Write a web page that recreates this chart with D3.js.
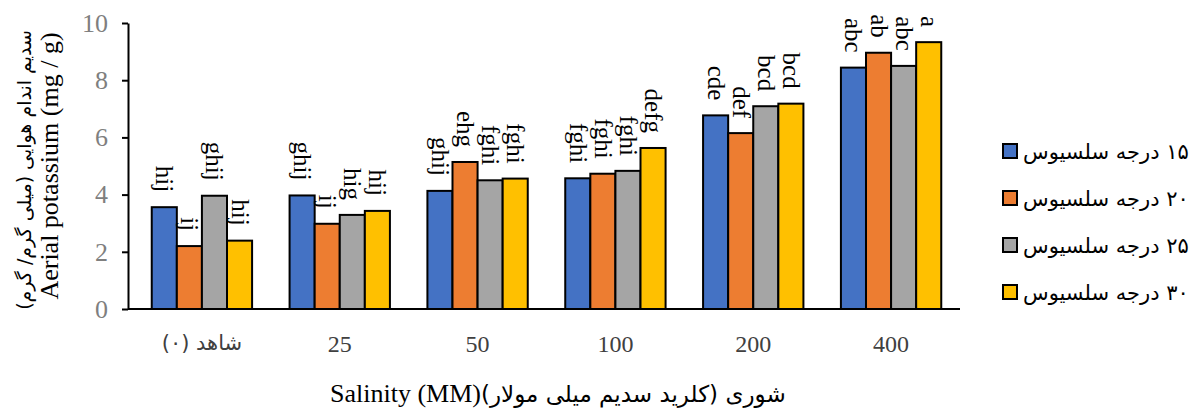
<!DOCTYPE html>
<html>
<head>
<meta charset="utf-8">
<script src="https://cdn.jsdelivr.net/npm/d3@7"></script>
<style>
  body { margin: 0; background: #fff; }
  svg { display: block; }
</style>
</head>
<body>
<div id="wrapper"></div>
<script>
// data
const categories = ["شاهد (۰)", "25", "50", "100", "200", "400"]
const seriesNames = ["۱۵ درجه سلسیوس", "۲۰ درجه سلسیوس", "۲۵ درجه سلسیوس", "۳۰ درجه سلسیوس"]
const colors = ["#4472C4", "#ED7D31", "#A5A5A5", "#FFC000"]

const temp15 = [3.56, 3.97, 4.13, 4.57, 6.77, 8.44]
const temp20 = [2.20, 2.98, 5.14, 4.73, 6.15, 8.96]
const temp25 = [3.96, 3.29, 4.50, 4.83, 7.09, 8.50]
const temp30 = [2.39, 3.43, 4.56, 5.63, 7.18, 9.33]

const letters15 = ["hij", "ghij", "ghij", "fghi", "cde", "abc"]
const letters20 = ["ij", "ij", "ehg", "fghi", "def", "ab"]
const letters25 = ["ghij", "hig", "fghi", "fghi", "bcd", "abc"]
const letters30 = ["hij", "hij", "fghi", "defg", "bcd", "a"]

const yTicks = [0, 2, 4, 6, 8, 10]

const series = [temp15, temp20, temp25, temp30]
const letters = [letters15, letters20, letters25, letters30]

const serif = "'Liberation Serif', 'Times New Roman', serif"
const persian = "'DejaVu Sans', sans-serif"

// chart dimensions
let dimensions = {
    width: 1190,
    height: 408,
    margins: { top: 23, right: 230, bottom: 99, left: 128 },
}
dimensions.boundedWidth = dimensions.width - dimensions.margins.left - dimensions.margins.right
dimensions.boundedHeight = dimensions.height - dimensions.margins.top - dimensions.margins.bottom

const wrapper = d3.select("#wrapper")
    .append("svg")
    .attr("width", dimensions.width)
    .attr("height", dimensions.height)

const bounds = wrapper.append("g")
    .attr("transform", `translate(${dimensions.margins.left},${dimensions.margins.top})`)

// scales
const yScale = d3.scaleLinear()
    .domain([0, 10])
    .range([dimensions.boundedHeight, 0])

const xScale = d3.scaleBand()
    .domain(categories)
    .range([5, dimensions.boundedWidth])
    .paddingInner(0.272)
    .paddingOuter(0.136)

const innerScale = d3.scaleBand()
    .domain(d3.range(series.length))
    .range([0, xScale.bandwidth()])

// rows for drawing
const rows = []
series.forEach((vals, si) => {
    vals.forEach((v, ci) => {
        rows.push({ si, ci, value: v, label: letters[si][ci] })
    })
})

// bars
bounds.append("g")
    .selectAll("rect")
    .data(rows)
    .join("rect")
    .attr("x", d => xScale(categories[d.ci]) + innerScale(d.si))
    .attr("y", d => yScale(d.value))
    .attr("width", innerScale.bandwidth())
    .attr("height", d => yScale(0) - yScale(d.value))
    .attr("fill", d => colors[d.si])
    .attr("stroke", "#000")
    .attr("stroke-width", 2)

// letter labels, rotated
bounds.append("g")
    .selectAll("text")
    .data(rows)
    .join("text")
    .attr("transform", d => `translate(${xScale(categories[d.ci]) + innerScale(d.si) + innerScale.bandwidth() / 2},${yScale(d.value) - 15}) rotate(90)`)
    .attr("text-anchor", "end")
    .attr("dy", "0.32em")
    .style("font-family", serif)
    .style("font-size", "25px")
    .attr("fill", "#000")
    .text(d => d.label)

// y axis
const yAxis = bounds.append("g")
    .call(d3.axisLeft(yScale).tickValues(yTicks).tickSize(6).tickSizeOuter(0).tickPadding(14))
yAxis.attr("font-family", null)
yAxis.select(".domain").attr("stroke", "#000").attr("stroke-width", 2)
yAxis.selectAll(".tick line").attr("stroke", "#000").attr("stroke-width", 2)
yAxis.selectAll(".tick text")
    .style("font-family", serif)
    .style("font-size", "26px")
    .attr("fill", "#7f7f7f")

// x axis
const xAxis = bounds.append("g")
    .attr("transform", `translate(0,${dimensions.boundedHeight})`)
    .call(d3.axisBottom(xScale).tickSize(0).tickPadding(26))
xAxis.attr("font-family", null)
xAxis.select(".domain").remove()
xAxis.append("line")
    .attr("x1", 0)
    .attr("x2", dimensions.boundedWidth)
    .attr("stroke", "#000")
    .attr("stroke-width", 2)
xAxis.selectAll(".tick text")
    .style("font-family", (d, i) => i === 0 ? persian : serif)
    .style("font-size", (d, i) => i === 0 ? "21px" : "24px")
    .attr("fill", "#404040")
    .text(d => /^\d+$/.test(d) ? d : "\u2067" + d + "\u2069")

// axis titles
wrapper.append("text")
    .attr("transform", `translate(58,${dimensions.margins.top + dimensions.boundedHeight / 2}) rotate(-90)`)
    .attr("text-anchor", "middle")
    .style("font-family", serif)
    .style("font-size", "26px")
    .attr("fill", "#000")
    .text("Aerial potassium (mg / g)")

wrapper.append("text")
    .attr("transform", `translate(31,${dimensions.margins.top + dimensions.boundedHeight / 2 + 4}) rotate(-90)`)
    .attr("text-anchor", "middle")
    .style("font-family", persian)
    .style("font-size", "19px")
    .attr("fill", "#000")
    .text("\u2067سدیم اندام هوایی (میلی گرم/ گرم)\u2069")

const xTitle = wrapper.append("text")
    .attr("x", 330)
    .attr("y", 402)
    .attr("fill", "#000")
xTitle.append("tspan")
    .style("font-family", serif)
    .style("font-size", "26px")
    .text("Salinity (MM)")
xTitle.append("tspan")
    .style("font-family", persian)
    .style("font-size", "23px")
    .text("\u2067شوری (کلرید سدیم میلی مولار)\u2069")

// legend
const legend = wrapper.append("g")
    .attr("transform", "translate(1003,151)")
const legendItems = legend.selectAll("g")
    .data(seriesNames)
    .join("g")
    .attr("transform", (d, i) => `translate(0,${i * 47})`)
legendItems.append("rect")
    .attr("x", 0)
    .attr("y", -7)
    .attr("width", 14)
    .attr("height", 14)
    .attr("fill", (d, i) => colors[i])
    .attr("stroke", "#000")
    .attr("stroke-width", 2)
legendItems.append("text")
    .attr("x", 20)
    .attr("y", 8)
    .style("font-family", persian)
    .style("font-size", "21px")
    .attr("fill", "#000")
    .text(d => "\u2067" + d + "\u2069")
</script>
</body>
</html>
